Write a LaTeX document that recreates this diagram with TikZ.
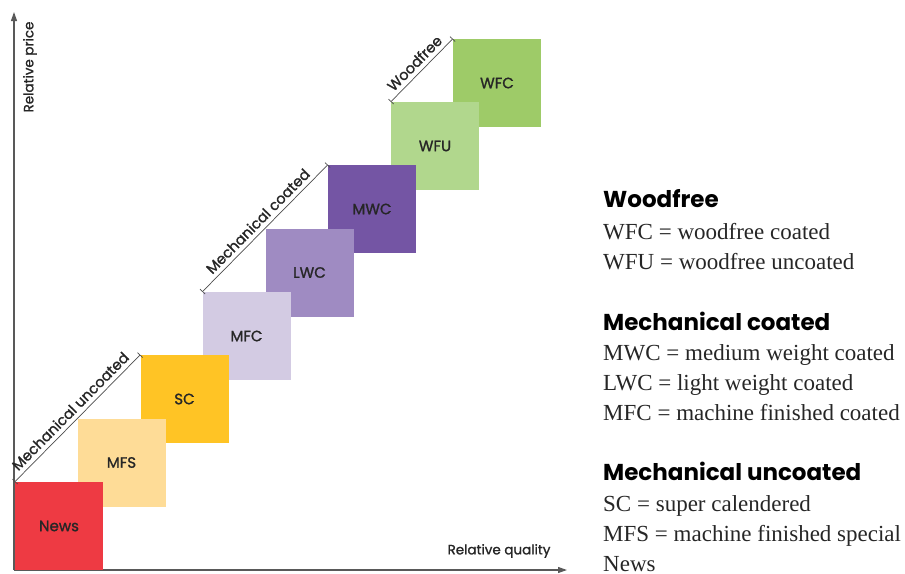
\documentclass[tikz,border=0pt]{standalone}
\usepackage{fontspec}
\setmainfont{Liberation Serif}
\newfontfamily\geo{Poppins}
\newfontfamily\geomed{Poppins}[FakeBold=1.3]
\usetikzlibrary{arrows.meta}
\definecolor{newscol}{HTML}{EE3A43}
\definecolor{mfscol}{HTML}{FEDC97}
\definecolor{sccol}{HTML}{FFC425}
\definecolor{mfccol}{HTML}{D3CBE3}
\definecolor{lwccol}{HTML}{9F8BC2}
\definecolor{mwccol}{HTML}{7455A4}
\definecolor{wfucol}{HTML}{B1D78D}
\definecolor{wfccol}{HTML}{9ECB68}
\begin{document}
\begin{tikzpicture}[x=1pt,y=-1pt,
		paper/.style={minimum size=88pt,inner sep=0pt,font=\geomed\fontsize{15}{17}\selectfont,text=black!85},
		axis/.style={draw=black!65,line width=1.1pt,-{Triangle[length=9pt,width=6pt]}},
		span/.style={draw=black!70,line width=0.7pt,{Bar[width=7pt]}-{Bar[width=7pt]}},
		spanlabel/.style={midway,sloped,above=1pt,font=\geomed\fontsize{14.5}{16}\selectfont,text=black!85},
		axislabel/.style={font=\geomed\fontsize{13.5}{15}\selectfont,text=black!85},
		head/.style={anchor=base west,inner sep=0pt,font=\geo\bfseries\fontsize{23}{27}\selectfont},
		entry/.style={anchor=base west,inner sep=0pt,font=\fontsize{23}{27}\selectfont,text=black!85}]
			\useasboundingbox (0,0) rectangle (905,573);
			\coordinate (O) at (14,570);
			\coordinate (Ytip) at (14,12);
			\coordinate (Xtip) at (567,570);
			\draw[axis] (O)--(Ytip);
			\draw[axis] (O)--(Xtip);
			\node[axislabel,rotate=90] (price) at (30,67) {Relative price};
			\node[axislabel] (quality) at (499,551) {Relative quality};
			\node[paper,fill=wfccol] (WFC) at (497,83) {WFC};
			\node[paper,fill=wfucol] (WFU) at (435,146) {WFU};
			\node[paper,fill=mwccol] (MWC) at (372,209) {MWC};
			\node[paper,fill=lwccol] (LWC) at (309.5,272.5) {LWC};
			\node[paper,fill=mfccol] (MFC) at (246.5,336) {MFC};
			\node[paper,fill=sccol] (SC) at (184.5,399) {SC};
			\node[paper,fill=mfscol] (MFS) at (121.5,462.5) {MFS};
			\node[paper,fill=newscol] (News) at (59,526) {News};
			\draw[span] (News.north west)--(SC.north west) node[spanlabel] {Mechanical uncoated};
			\draw[span] (MFC.north west)--(MWC.north west) node[spanlabel] {Mechanical coated};
			\draw[span] (WFU.north west)--(WFC.north west) node[spanlabel] {Woodfree};
			\node[head] (hwood) at (603,207) {Woodfree};
			\node[entry] (lwfc) at (603,239) {WFC = woodfree coated};
			\node[entry] (lwfu) at (603,269) {WFU = woodfree uncoated};
			\node[head] (hcoat) at (603,330) {Mechanical coated};
			\node[entry] (lmwc) at (603,360) {MWC = medium weight coated};
			\node[entry] (llwc) at (603,390) {LWC = light weight coated};
			\node[entry] (lmfc) at (603,420) {MFC = machine finished coated};
			\node[head] (hunc) at (603,480) {Mechanical uncoated};
			\node[entry] (lsc) at (603,511) {SC = super calendered};
			\node[entry] (lmfs) at (603,541) {MFS = machine finished special};
			\node[entry] (lnews) at (603,571) {News};
		\end{tikzpicture}
\end{document}
